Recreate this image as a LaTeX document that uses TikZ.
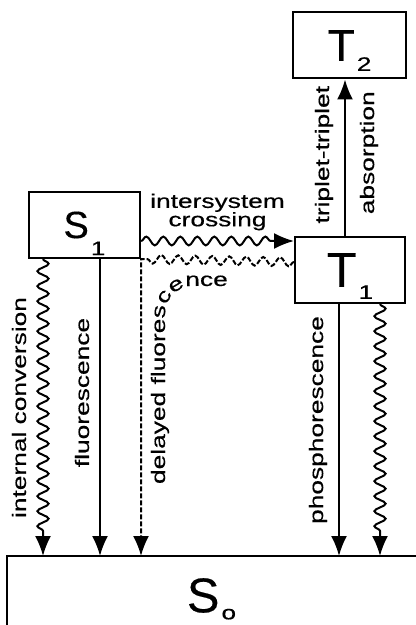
\documentclass[tikz,border=0pt]{standalone}
\usepackage{fontspec}
\setmainfont{Liberation Sans}[FakeBold=0.3]
\newfontfamily\widefont[FakeStretch=1.35, FakeBold=0.4]{Liberation Sans}
\usetikzlibrary{
    arrows.meta,
    decorations.pathmorphing,
    decorations.text
}
\newcommand{\lbl}{\widefont\fontsize{9.75}{9.2}\selectfont}
\newcommand{\lvl}[3]{#1\hspace{1pt}\raisebox{-#3}[0pt][0pt]{\lbl #2}}
\tikzset{
    level/.style={draw, line width=1pt, inner sep=0pt,
        minimum width=55pt, minimum height=33pt,
        font=\fontsize{24.4}{24}\selectfont},
    trans/.style={line width=1pt, -{Latex[length=10pt,width=8pt]}},
    wavy/.style={trans, line width=1pt, decorate,
        decoration={snake, amplitude=2.8pt, segment length=7.5pt, post length=10pt}},
    backwave/.style={trans, line width=1pt, dash pattern=on 2.5pt off 1pt,
        decoration={snake, amplitude=2.2pt, segment length=8.5pt}},
    tag/.style={font=\lbl, align=center}
}

\begin{document}
\begin{tikzpicture}[x=0.5pt, y=-0.5pt]
        \useasboundingbox (0,0) rectangle (416,625);

        % energy levels
        \draw (84.5,225) node[level, minimum width=55.5pt,
            font=\fontsize{19}{19}\selectfont](S1){\lvl{S}{1}{8.5pt}};
        \draw (350,270) node[level](T1){\lvl{T}{1}{6pt}};
        \draw (349.5,45.5) node[level, minimum width=56.5pt,
            font=\fontsize{22.3}{22}\selectfont](T2){\lvl{T}{2}{5pt}};
        \draw (211.5,595.5) node[level, draw=none, minimum width=203.5pt,
            minimum height=38.5pt](S0){\lvl{S}{o}{3.5pt}};
        \draw[line width=1pt] (S0.south west) -- (S0.north west) -- (S0.north east);
        \draw[gray!40, dotted] (S0.north east) -- (S0.south east);

        \coordinate (ic) at (43,0);
        \coordinate (fl) at (100,0);
        \coordinate (ph) at (339,0);
        \coordinate (nr) at (380,0);
        \coordinate (tt) at (345,0);
        \coordinate (isc) at (0,241);
        \coordinate (risc) at (0,262);

        \draw[wavy] (S1.south -| ic) to node[tag, xshift=-12pt, rotate=90]{internal conversion} (S0.north -| ic);
        \draw[trans] (S1.south -| fl) to node[tag, xshift=-9pt, yshift=7.5pt, rotate=90]{fluorescence} (S0.north -| fl);
        \draw[backwave] (T1.west |- risc) decorate{ -- (S1.south east)} -- (S0.north -| S1.south east);
        \path[rounded corners=14pt, decorate,
            decoration={text along path, text={|\lbl|delayed fluorescence}}]
            (165,484) |- (260,286);

        \draw[wavy, decoration={amplitude=2.2pt, segment length=8.5pt}] (S1.east |- isc) to
            node[tag, yshift=14.5pt]{intersystem\\crossing} (T1.west |- isc);

        \draw[trans] (T1.north -| tt) to
            node[tag, xshift=-10.5pt, yshift=1.5pt, rotate=90]{triplet-triplet}
            node[tag, xshift=12pt, yshift=2.5pt, rotate=90]{absorption} (T2.south -| tt);
        \draw[trans] (T1.south -| ph) to node[tag, xshift=-10.5pt, yshift=5pt, rotate=90]{phosphorescence} (S0.north -| ph);
        \draw[wavy] (T1.south -| nr) -- (S0.north -| nr);
    \end{tikzpicture}
\end{document}
